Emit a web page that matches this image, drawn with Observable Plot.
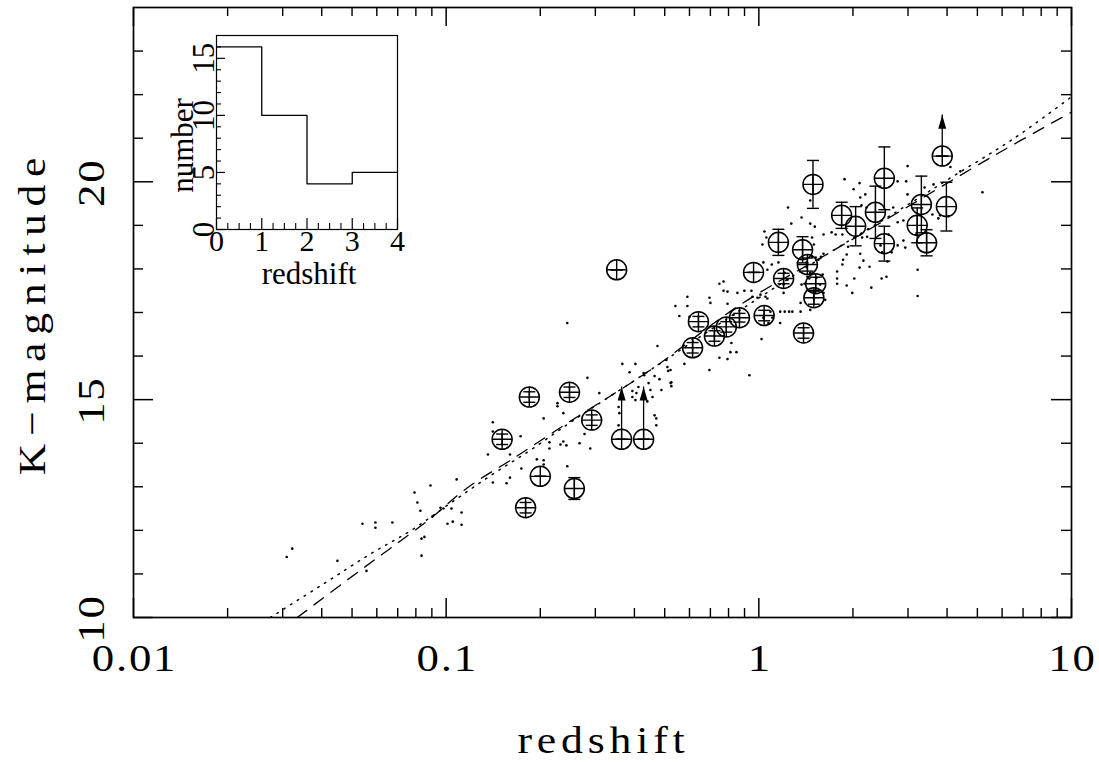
<!DOCTYPE html>
<html>
<head>
<meta charset="utf-8">
<script src="https://cdn.jsdelivr.net/npm/d3@7"></script>
<script src="https://cdn.jsdelivr.net/npm/@observablehq/plot@0.6"></script>
<style>
  body { margin: 0; background: white; }
  #wrap { position: relative; width: 1099px; height: 762px; }
  #inset { position: absolute; left: 150px; top: 20px; }
</style>
</head>
<body>
<div id="wrap"><div id="main"></div><div id="inset"></div></div>
<script>
// ---------- data ----------
const xMajor = [0.01, 0.1, 1, 10];
const xLabels = ["0.01", "0.1", "1", "10"];
const yMajor = [10, 15, 20];
const yLabels = ["10", "15", "20"];
const xTitle = "redshift";
const yTitle = "K\u2212magnitude";

// small dots (comparison sample): redshift and K magnitude
const dotZ = [
 0.0309,0.0322,0.0449,0.054,0.0594,0.0594,0.0673,0.0556,0.0792,0.0809,0.0827,0.0891,0.0834,0.0852,0.0834,0.0904,0.0959,0.098,0.104,0.108,0.101,0.105,0.112,0.112,
 0.136,0.141,0.141,0.141,0.156,0.16,0.16,0.173,0.174,0.195,0.205,0.205,0.205,0.214,0.214,0.232,0.237,0.2425,0.237,0.244,0.227,0.227,0.267,0.283,0.277,0.289,0.309,0.356,0.358,0.356,0.366,0.403,0.394,0.394,0.406,0.403,0.412,0.428,0.43,0.444,0.45,0.457,0.464,0.464,0.47,0.47,0.488,0.474,0.481,0.51,0.513,0.525,0.525,0.578,0.44,0.244,0.386,0.506,0.522,0.522,
 0.541,0.557,0.591,0.591,0.6,0.695,0.70,0.748,0.771,0.771,0.794,0.794,0.83,0.848,0.811,0.748,0.794,0.695,0.817,0.854,0.899,0.947,0.954,0.933,0.99,1.012,1.05,1.065,1.02,1.034,1.089,1.105,1.073,1.17,1.17,1.25,1.2,1.235,1.21,1.1,1.065,1.034,1.155,1.027,1.042,1.057,1.24,1.27,1.37,1.46,1.46,1.48,1.5,1.42,1.48,1.52,1.43,1.45,1.53,1.36,1.36,1.4,1.37,1.5,1.46,
 1.51,1.61,1.71,1.76,1.85,1.88,2.01,2.1,2.11,2.13,2.19,2.21,2.24,2.22,2.14,2.11,1.93,1.91,1.86,1.85,1.78,1.78,1.78,1.91,1.99,2.02,2.1,2.16,2.26,2.29,2.45,2.48,2.58,2.66,2.6,2.69,2.78,2.99,2.96,2.99,2.78,2.9,2.9,2.78,2.94,3.19,3.22,3.22,2.47,2.56,3.39,3.62,3.59,3.75,3.8,4.04,4.1,4.41,5.19,1.61,1.58,1.55,1.46,1.6,1.57,1.61,1.63,1.2,1.28,1.21
];
const dotK = [
 11.39,11.58,11.30,12.15,12.18,12.06,12.18,11.07,12.87,12.64,12.45,13.03,11.81,11.85,11.42,12.32,12.52,12.50,12.50,13.17,12.15,12.20,12.41,12.13,
 13.74,14.48,14.27,13.10,13.08,13.21,13.74,14.16,13.42,13.63,13.61,13.51,14.57,14.02,13.88,13.97,14.04,13.95,14.69,13.47,14.92,14.85,14.0,15.5,14.21,13.88,15.15,14.83,14.69,14.41,15.82,15.82,15.2,15.06,15.15,14.99,15.29,15.61,15.56,15.38,15.22,15.06,15.54,14.64,14.57,14.41,15.22,16.23,15.47,15.75,15.66,15.4,15.31,15.82,14.96,16.76,15.63,15.91,15.68,15.38,
 17.15,16.92,17.36,17.15,16.90,17.34,17.22,17.66,17.71,17.50,17.48,17.20,16.95,16.09,16.09,15.96,15.93,15.68,16.30,17.45,17.50,17.50,17.36,15.56,17.34,17.41,17.36,17.32,16.39,16.88,17.02,16.88,16.76,17.02,16.76,17.02,17.64,17.75,17.91,18.10,17.98,18.15,18.15,18.56,18.86,18.72,19.41,19.04,19.18,19.04,19.57,18.72,18.56,18.15,18.28,18.26,17.82,17.78,17.80,17.22,17.02,17.66,17.64,17.34,17.06,
 18.97,18.79,18.84,18.79,18.79,20.06,19.83,19.97,19.64,19.46,19.71,19.41,18.91,18.74,18.72,18.35,18.51,18.33,18.21,18.10,17.94,17.78,17.66,17.62,17.45,17.78,18.03,18.19,18.05,17.57,18.54,18.38,18.17,18.38,18.79,19.41,20.01,20.36,20.01,19.71,19.07,19.11,18.65,18.54,18.49,18.79,17.98,17.38,17.78,17.82,19.87,19.94,19.25,19.16,19.23,19.21,20.34,20.24,19.76,18.35,18.28,18.21,17.91,17.87,17.64,17.45,17.29,17.45,17.02,17.02
];

// circled sources: redshift, K magnitude, K error
const srcZ = [0.1795,0.151,0.1845,0.200,0.248,0.257,0.292,0.364,0.428,0.351,0.614,0.641,0.721,0.787,0.867,1.04,0.962,1.20,1.155,1.38,1.43,1.52,1.50,1.39,1.49,1.84,2.04,2.36,2.52,2.52,3.31,3.21,3.44,3.98,3.86];
const srcK = [12.52,14.09,15.06,13.24,15.17,12.96,14.53,14.09,14.09,17.98,16.19,16.79,16.46,16.67,16.88,16.93,17.92,17.78,18.61,18.44,18.10,17.66,17.34,16.53,19.94,19.23,18.98,19.30,20.08,18.58,19.48,19.00,18.60,19.43,20.59];
const srcErr = [0.12,0.12,0.12,0,0.12,0.25,0.12,0,0,0,0.12,0.12,0.12,0.12,0.1,0.12,0,0.12,0.3,0.3,0.15,0.15,0.15,0.12,0.55,0.3,0.45,0.6,0.72,0.4,0.65,0.4,0.3,0.56,0];

// lower limits (arrows)
const arrowZ = [0.364, 0.428, 3.86];
const arrowK = [14.09, 14.09, 20.59];
const arrowTip = [15.29, 15.29, 21.53];

// model curves
const dottedZ = [0.0274,0.0405,0.0573,0.0769,0.103,0.139,0.186,0.25,0.45,0.87,1.69,2.84,4.19,6.5,10];
const dottedK = [10.0,10.77,11.46,11.99,12.62,13.26,13.84,14.48,15.68,17.05,18.38,19.37,20.13,20.98,21.95];
const dashedZ = [0.0334,0.047,0.0649,0.089,0.117,0.164,0.244,0.45,0.873,1.69,2.84,5.62,10];
const dashedK = [10.0,10.8,11.54,12.27,12.98,13.65,14.46,15.68,17.18,18.38,19.33,20.59,21.6];

// inset histogram
const histBins = [0, 1, 2, 3];
const histCounts = [16, 10, 4, 5];
const histEnd = 4;
const insetXTicks = [0, 1, 2, 3, 4];
const insetYTicks = [0, 5, 10, 15];

// ---------- derived tables ----------
const dots = dotZ.map((z, i) => ({z, k: dotK[i]}));
const sources = srcZ.map((z, i) => ({z, k: srcK[i], e: srcErr[i]}));
const arrows = arrowZ.map((z, i) => ({z, k: arrowK[i], tip: arrowTip[i]}));
const dotted = dottedZ.map((z, i) => ({z, k: dottedK[i]}));
const dashed = dashedZ.map((z, i) => ({z, k: dashedK[i]}));
const histLine = histBins.map((b, i) => ({x: b, y: histCounts[i]}))
  .concat([{x: histEnd, y: histCounts[histCounts.length - 1]}]);

const xMinor = [0.01, 0.1, 1].flatMap(d => [2,3,4,5,6,7,8,9].map(m => m * d));
const yMinor = d3.range(11, 24).filter(v => v % 5 !== 0);
const insetXMinor = d3.range(0, 4.001, 0.25).filter(v => v % 1 !== 0);
const insetYMinor = d3.range(1, 17).filter(v => v % 5 !== 0);

// ---------- symbols ----------
const rad = size => Math.sqrt(size / Math.PI);
const crossSym = {draw(c, s) { const r = rad(s); c.moveTo(-r, 0); c.lineTo(r, 0); c.moveTo(0, -r); c.lineTo(0, r); }};
const capSym = {draw(c, s) { const r = rad(s); c.moveTo(-r, 0); c.lineTo(r, 0); }};
const headSym = {draw(c, s) { const r = rad(s); c.moveTo(0, 0); c.lineTo(-0.5 * r, 1.7 * r); c.lineTo(0.5 * r, 1.7 * r); c.closePath(); }};

const font = "'Liberation Serif', 'Times New Roman', serif";

// ---------- main plot ----------
const W = 1099, H = 762, mL = 133, mR = 28, mT = 7, mB = 145;
const fw = W - mL - mR, fh = H - mT - mB;

const main = Plot.plot({
  width: W, height: H,
  marginLeft: mL, marginRight: mR, marginTop: mT, marginBottom: mB,
  style: {fontFamily: font, background: "transparent", color: "black", overflow: "visible"},
  x: {type: "log", domain: [0.01, 10], axis: null},
  y: {domain: [10, 24], axis: null},
  marks: [
    // inward ticks
    Plot.ruleX(xMajor, {x: d => d, insetTop: fh - 19, strokeWidth: 1.5}),
    Plot.ruleX(xMajor, {x: d => d, insetBottom: fh - 19, strokeWidth: 1.5}),
    Plot.ruleX(xMinor, {x: d => d, insetTop: fh - 9, strokeWidth: 1.4}),
    Plot.ruleX(xMinor, {x: d => d, insetBottom: fh - 9, strokeWidth: 1.4}),
    Plot.ruleY(yMajor, {y: d => d, insetRight: fw - 20, strokeWidth: 1.5}),
    Plot.ruleY(yMajor, {y: d => d, insetLeft: fw - 20, strokeWidth: 1.5}),
    Plot.ruleY(yMinor, {y: d => d, insetRight: fw - 10, strokeWidth: 1.4}),
    Plot.ruleY(yMinor, {y: d => d, insetLeft: fw - 10, strokeWidth: 1.4}),
    // model curves
    Plot.line(dotted, {x: "z", y: "k", curve: "catmull-rom", stroke: "black", strokeWidth: 1.5, strokeDasharray: "1.5,6.5", clip: true}),
    Plot.line(dashed, {x: "z", y: "k", curve: "catmull-rom", stroke: "black", strokeWidth: 1.3, strokeDasharray: "12,9", clip: true}),
    // comparison sample
    Plot.dot(dots, {x: "z", y: "k", r: 1.3, fill: "black", stroke: "none"}),
    // error bars and caps
    Plot.ruleX(sources, {x: "z", y1: d => d.k - d.e, y2: d => d.k + d.e, stroke: "black", strokeWidth: 1.4}),
    Plot.dot(sources, {x: "z", y: d => d.k + d.e, symbol: capSym, r: 6, stroke: "black", fill: "none", strokeWidth: 1.4}),
    Plot.dot(sources, {x: "z", y: d => d.k - d.e, symbol: capSym, r: 6, stroke: "black", fill: "none", strokeWidth: 1.4}),
    // lower-limit arrows
    Plot.ruleX(arrows, {x: "z", y1: "k", y2: "tip", stroke: "black", strokeWidth: 1.3}),
    Plot.dot(arrows, {x: "z", y: "tip", symbol: headSym, r: 8, fill: "black", stroke: "none"}),
    // circled sources
    Plot.dot(sources, {x: "z", y: "k", r: 10, stroke: "black", fill: "none", strokeWidth: 1.5}),
    Plot.dot(sources, {x: "z", y: "k", symbol: crossSym, r: 10, stroke: "black", fill: "none", strokeWidth: 1.4}),
    Plot.frame({stroke: "black", strokeWidth: 1.7}),
    // tick labels
    Plot.text(xMajor, {x: d => d, text: (d, i) => xLabels[i], frameAnchor: "bottom", lineAnchor: "middle", textAnchor: "middle", dy: 41, dx: 1, fontSize: 39}),
    Plot.text(yMajor, {y: d => d, text: (d, i) => yLabels[i], frameAnchor: "left", lineAnchor: "middle", textAnchor: "middle", dx: -42, dy: 1, rotate: -90, fontSize: 39}),
    // axis titles
    Plot.text([xTitle], {frameAnchor: "bottom", lineAnchor: "middle", textAnchor: "middle", dy: 123, dx: 1, fontSize: 38}),
    Plot.text([yTitle], {frameAnchor: "left", lineAnchor: "middle", textAnchor: "middle", dx: -101, dy: 0, rotate: -90, fontSize: 38})
  ]
});
document.getElementById("main").appendChild(main);

// wide plotter-style lettering: stretch glyphs and add letter spacing
const spacing = new Map([[xTitle, "4.2px"], [yTitle, "6.7px"]]);
xLabels.concat(yLabels).forEach(t => spacing.set(t, "1.5px"));
d3.select(main).selectAll("text").each(function() {
  const s = spacing.get(this.textContent);
  if (s) {
    this.style.letterSpacing = s;
    const t = this.getAttribute("transform") || "";
    this.setAttribute("transform", (t + " scale(1.15,1)").trim());
  }
});

// ---------- inset histogram ----------
const iW = 260, iH = 285, iL = 66, iR = 13, iT = 15, iB = 76;
const ifw = iW - iL - iR, ifh = iH - iT - iB;

const inset = Plot.plot({
  width: iW, height: iH,
  marginLeft: iL, marginRight: iR, marginTop: iT, marginBottom: iB,
  style: {fontFamily: font, background: "transparent", color: "black", overflow: "visible"},
  x: {domain: [0, 4], axis: null},
  y: {domain: [0, 17], axis: null},
  marks: [
    Plot.ruleX(insetXTicks, {x: d => d, insetTop: ifh - 11, strokeWidth: 1.2}),
    Plot.ruleX(insetXMinor, {x: d => d, insetTop: ifh - 6, strokeWidth: 1.1}),
    Plot.ruleY(insetYTicks, {y: d => d, insetRight: ifw - 9, strokeWidth: 1.2}),
    Plot.ruleY(insetYMinor, {y: d => d, insetRight: ifw - 5, strokeWidth: 1.1}),
    Plot.line(histLine, {x: "x", y: "y", curve: "step-after", stroke: "black", strokeWidth: 1.3}),
    Plot.frame({stroke: "black", strokeWidth: 1.2}),
    Plot.text(insetXTicks, {x: d => d, text: d => String(d), frameAnchor: "bottom", lineAnchor: "middle", textAnchor: "middle", dy: 12, fontSize: 30}),
    Plot.text(insetYTicks, {y: d => d, text: d => String(d), frameAnchor: "left", lineAnchor: "middle", textAnchor: "middle", dx: -12, rotate: -90, fontSize: 31}),
    Plot.text(["redshift"], {frameAnchor: "bottom", lineAnchor: "middle", textAnchor: "middle", dy: 45, dx: 2, fontSize: 31}),
    Plot.text(["number"], {frameAnchor: "left", lineAnchor: "middle", textAnchor: "middle", dx: -33, dy: 13, rotate: -90, fontSize: 31})
  ]
});
document.getElementById("inset").appendChild(inset);
</script>
</body>
</html>
